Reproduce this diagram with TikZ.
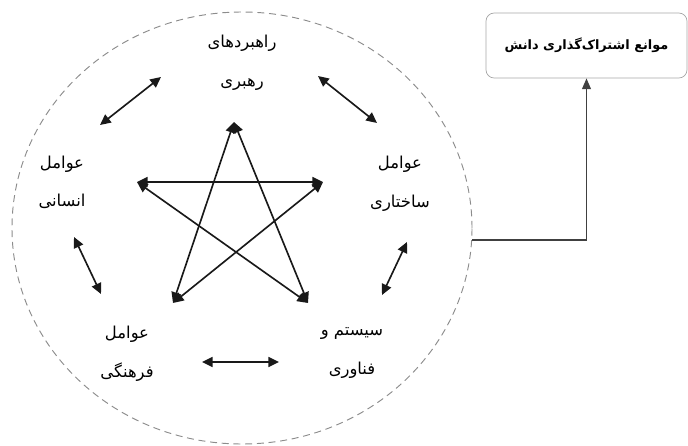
\documentclass[tikz,border=0pt]{standalone}
\usepackage{fontspec}
\newfontfamily\fa[Script=Arabic]{DejaVu Sans}
\TeXXeTstate=1
\usetikzlibrary{shapes.geometric,arrows.meta}

\begin{document}
\begin{tikzpicture}[
  x=0.03cm, y=-0.03cm,
  factor/.style={font=\fa\fontsize{14}{33}\selectfont,align=center,inner sep=0pt},
  ring/.style={ellipse,draw=gray!90,dash pattern=on 6pt off 4pt,line width=0.8pt,
    minimum width=13.8cm,minimum height=12.96cm,inner sep=0pt},
  barrier/.style={draw=gray!70,rounded corners=7pt,line width=0.6pt,
    minimum width=6.03cm,minimum height=1.95cm,font=\fa\bfseries\fontsize{11}{13}\selectfont},
  link/.style={{Triangle[length=3.2mm,width=3mm]}-{Triangle[length=3.2mm,width=3mm]},
    line width=1.4pt,black!90},
  feed/.style={-{Triangle[length=3.2mm,width=2.6mm]},line width=1.4pt,black!75}
]
  \useasboundingbox (0,0) rectangle (688,446);

  % dashed boundary and the target box
  \node[ring] (ring) at (242,228) {};
  \node[barrier] (share) at (586.5,45.5) {\beginR موانع اشتراک^^^^200cگذاری دانش\endR};

  % five factors
  \node[factor] (lead) at (242,62.5) {\beginR راهبردهای\endR\\\beginR رهبری\endR};
  \node[factor] (human) at (62,182.5) {\beginR عوامل\endR\\\beginR انسانی\endR};
  \node[factor] (struct) at (400,184) {\beginR عوامل\endR\\\beginR ساختاری\endR};
  \node[factor] (cult) at (127,354) {\beginR عوامل\endR\\\beginR فرهنگی\endR};
  \node[factor] (tech) at (352,353) {\beginR سیستم و\endR\\\beginR فناوری\endR};

  % star points
  \coordinate (pT) at (234,122);
  \coordinate (pL) at (137,182);
  \coordinate (pR) at (323,182);
  \coordinate (pBL) at (173,303);
  \coordinate (pBR) at (308,303);

  \draw[link] (pT) -- (pBL);
  \draw[link] (pT) -- (pBR);
  \draw[link] (pL) -- (pR);
  \draw[link] (pL) -- (pBR);
  \draw[link] (pR) -- (pBL);

  % arrows between neighbours
  \coordinate (lh1) at (100,125);
  \coordinate (lh2) at (161,77);
  \coordinate (ls1) at (318,76);
  \coordinate (ls2) at (377,123);
  \coordinate (hc1) at (74,237);
  \coordinate (hc2) at (101,294);
  \coordinate (st1) at (407,242);
  \coordinate (st2) at (382,295);
  \coordinate (ct1) at (202,362);
  \coordinate (ct2) at (279,362);

  \draw[link] (lh1) -- (lh2);
  \draw[link] (ls1) -- (ls2);
  \draw[link] (hc1) -- (hc2);
  \draw[link] (st1) -- (st2);
  \draw[link] (ct1) -- (ct2);

  \draw[feed] (ring.-3.5) -| (share.south);
\end{tikzpicture}
\end{document}
